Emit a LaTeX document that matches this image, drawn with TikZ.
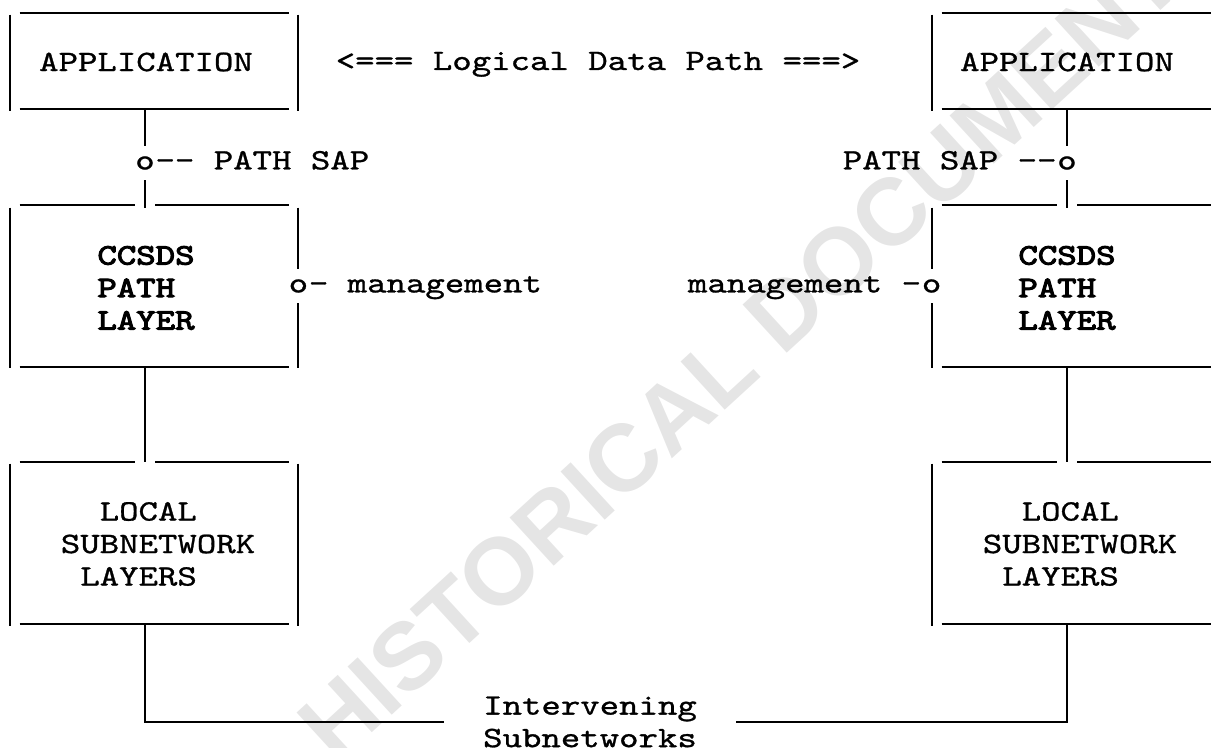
\documentclass[tikz,border=0pt]{standalone}
\usepackage{fontspec}
\usepackage{tikz}
\usetikzlibrary{calc}
\newfontfamily\asciifont{lmmono10-regular.otf}[FakeStretch=1.25,FakeBold=1]
\newfontfamily\asciibold{lmmono10-regular.otf}[FakeStretch=1.25,FakeBold=3.5]
\newfontfamily\stampfont{Liberation Sans}
\tikzstyle{line} = [draw, line width=1pt]
\tikzstyle{frame} = [rectangle, minimum width=144pt, inner sep=0pt]
\tikzstyle{txt} = [inner sep=0pt, font=\asciifont\fontsize{14.8}{16.25}\selectfont]
\tikzstyle{boldtxt} = [txt, font=\asciibold\fontsize{14.8}{16.25}\selectfont, align=left]
\tikzstyle{junction} = [txt, minimum height=17pt]
\tikzstyle{stamp} = [inner sep=0pt, text=black!10, font=\stampfont\bfseries\fontsize{47.5}{50}\selectfont, rotate=42.5]

\begin{document}
\begin{tikzpicture}[x=0.5pt, y=-0.5pt]
        \useasboundingbox (0,0) rectangle (1211,748);
        \node[stamp] (stamp) at (740,352) {HISTORICAL DOCUMENT};
        \node[frame, minimum height=48pt] (appL) at (154,61) {};
        \node[frame, minimum height=81pt] (pathL) at (154,286) {};
        \node[frame, minimum height=81pt] (locL) at (154,543) {};
        \node[frame, minimum height=48pt] (appR) at (1076,61) {};
        \node[frame, minimum height=81pt] (pathR) at (1076,286) {};
        \node[frame, minimum height=81pt] (locR) at (1076,543) {};
        \node[txt] (appLt) at (146,62) {APPLICATION};
        \node[txt] (appRt) at (1067,62) {APPLICATION};
        \node[boldtxt] (pathLt) at (146,288) {CCSDS\\PATH\\LAYER};
        \node[boldtxt] (pathRt) at (1067,288) {CCSDS\\PATH\\LAYER};
        \node[txt, align=left] (locLt) at (158,544) {\hphantom{LO}LOCAL\\SUBNETWORK\\\hphantom{L}LAYERS};
        \node[txt, align=left] (locRt) at (1080,544) {\hphantom{LO}LOCAL\\SUBNETWORK\\\hphantom{L}LAYERS};
        \node[txt, anchor=base] (logic) at (598,70) {<=== Logical Data Path ===>};
        \node[txt, align=left, inner xsep=19.5pt] (net) at (590,722) {Intervening\\Subnetworks};
        \node[junction] (sapL) at (145,163) {o};
        \node[junction] (sapR) at (1067,163) {o};
        \node[junction] (mgmtL) at (pathL.east) {o};
        \node[junction] (mgmtR) at (pathR.west) {o};
        \node[txt, anchor=base west] (sapLt) at (sapL.base east) {-{}- PATH SAP};
        \node[txt, anchor=base east] (sapRt) at (sapR.base west) {PATH SAP -{}-};
        \node[txt, anchor=base west] (mgmtLt) at (mgmtL.base east) {- management};
        \node[txt, anchor=base east] (mgmtRt) at (mgmtR.base west) {management -};
        \foreach \b in {appL,pathL,locL,appR,pathR,locR}
            \path[line] ($(\b.south west)+(10,0)$) -- ($(\b.south east)+(-9,0)$);
        \foreach \b in {appL,appR}
            \path[line] ($(\b.north west)+(10,0)$) -- ($(\b.north east)+(-9,0)$);
        \foreach \b/\j in {pathL/sapL,locL/sapL,pathR/sapR,locR/sapR} {
            \path[line] ($(\b.north west)+(10,0)$) -- ($(\b.north -| \j)+(-10,0)$);
            \path[line] ($(\b.north -| \j)+(10,0)$) -- ($(\b.north east)+(-9,0)$);
        }
        \foreach \b in {appL,locL,appR,locR} {
            \path[line] ($(\b.north west)+(0,2)$) -- ($(\b.south west)+(0,2)$);
            \path[line] ($(\b.north east)+(0,2)$) -- ($(\b.south east)+(0,2)$);
        }
        \path[line] ($(pathL.north west)+(0,3)$) -- ($(pathL.south west)+(0,1)$);
        \path[line] ($(pathL.north east)+(0,3)$) -- (mgmtL);
        \path[line] (mgmtL) -- ($(pathL.south east)+(0,1)$);
        \path[line] ($(pathR.north east)+(0,3)$) -- ($(pathR.south east)+(0,1)$);
        \path[line] ($(pathR.north west)+(0,3)$) -- (mgmtR);
        \path[line] (mgmtR) -- ($(pathR.south west)+(0,1)$);
        \path[line] (appL.south -| sapL) -- (sapL);
        \path[line] (sapL) -- ($(pathL.north -| sapL)+(0,3)$);
        \path[line] (pathL.south -| sapL) -- (locL.north -| sapL);
        \path[line] (locL.south -| sapL) |- (net.west);
        \path[line] (appR.south -| sapR) -- (sapR);
        \path[line] (sapR) -- ($(pathR.north -| sapR)+(0,3)$);
        \path[line] (pathR.south -| sapR) -- (locR.north -| sapR);
        \path[line] (locR.south -| sapR) |- (net.east);
    \end{tikzpicture}
\end{document}
